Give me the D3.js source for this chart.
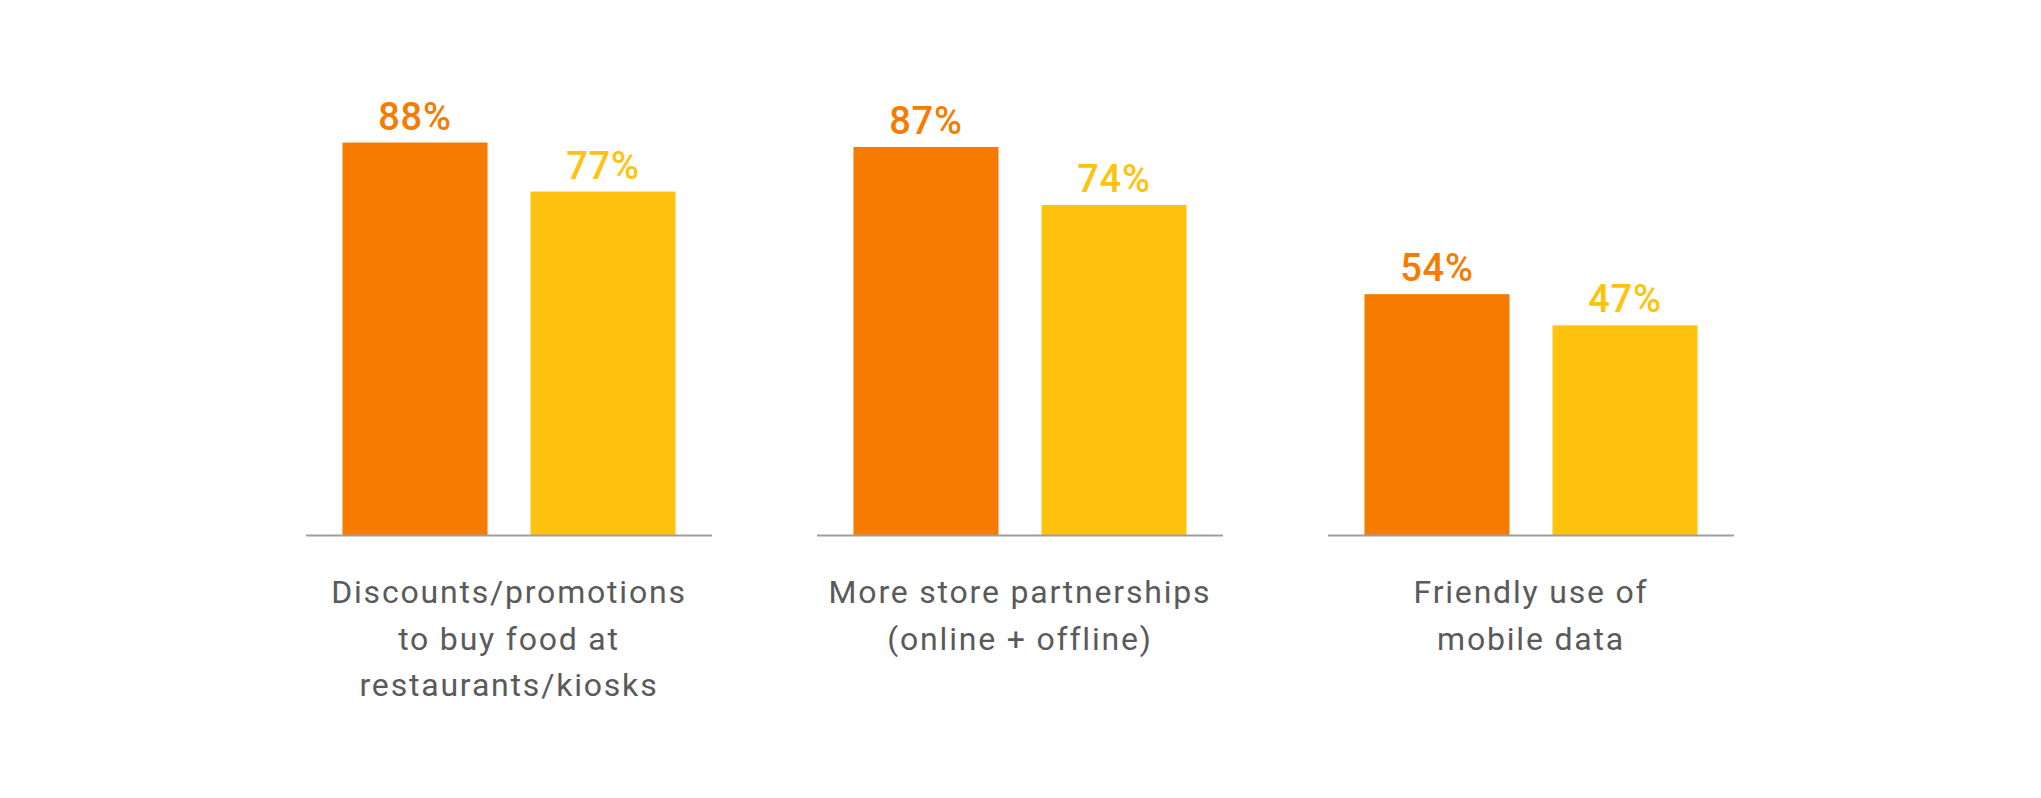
<!DOCTYPE html>
<html>
<head>
<meta charset="utf-8">
<script src="https://cdn.jsdelivr.net/npm/d3@7"></script>
<style>
  body { margin: 0; background: #fff; }
  svg { display: block; }
</style>
</head>
<body>
<script>
// chart values
const categories = ["discounts", "partnerships", "mobileData"];
const categoryLines = [
    ["Discounts/promotions", "to buy food at", "restaurants/kiosks"],
    ["More store partnerships", "(online + offline)"],
    ["Friendly use of", "mobile data"]
];
const seriesKeys = ["first", "second"];
const firstValues = [88, 87, 54];
const secondValues = [77, 74, 47];
const seriesColors = ["#F57C00", "#FFC20E"];

const width = 2041
const height = 798

// build rows for the grouped bars
const rows = categories.map((c, i) => ({
    category: c,
    lines: categoryLines[i],
    values: [
        {key: seriesKeys[0], value: firstValues[i]},
        {key: seriesKeys[1], value: secondValues[i]}
    ]
}));

const svg = d3.select("body")
    .append("svg")
    .attr("width", width)
    .attr("height", height)

svg.append("rect")
    .attr("width", width)
    .attr("height", height)
    .attr("fill", "white");

const x0 = d3.scaleBand()
    .domain(categories)
    .range([306, 1734])
    .paddingInner(0.2055)
    .paddingOuter(0);

const x1 = d3.scaleBand()
    .domain(seriesKeys)
    .range([0, x0.bandwidth()])
    .paddingInner(0.2287)
    .paddingOuter(0.194);

const y = d3.scaleLinear()
    .domain([0, 100])
    .range([535, 89]);

const color = d3.scaleOrdinal()
    .domain(seriesKeys)
    .range(seriesColors);

const group = svg.append("g")
    .selectAll("g")
    .data(rows)
    .join("g")
        .attr("transform", d => "translate(" + x0(d.category) + ",0)");

// bars
group.selectAll("rect")
    .data(d => d.values)
    .join("rect")
        .attr("x", d => x1(d.key))
        .attr("y", d => y(d.value))
        .attr("width", x1.bandwidth())
        .attr("height", d => y(0) - y(d.value))
        .attr("fill", d => color(d.key));

// value labels above bars
group.selectAll("text.value")
    .data(d => d.values)
    .join("text")
        .attr("class", "value")
        .attr("x", d => x1(d.key) + x1.bandwidth() / 2)
        .attr("y", d => y(d.value) - 13)
        .attr("text-anchor", "middle")
        .attr("font-family", "Roboto, sans-serif")
        .attr("font-weight", 500)
        .attr("font-size", 38)
        .attr("letter-spacing", 0.8)
        .attr("fill", d => color(d.key))
        .text(d => d.value + "%");

// baseline under each group
group.append("line")
    .attr("x1", 0)
    .attr("x2", x0.bandwidth())
    .attr("y1", y(0) + 0.5)
    .attr("y2", y(0) + 0.5)
    .attr("stroke", "#9e9e9e")
    .attr("stroke-width", 2);

// category labels
const label = group.append("text")
    .attr("text-anchor", "middle")
    .attr("font-family", "Roboto, sans-serif")
    .attr("font-weight", 400)
    .attr("font-size", 32)
    .attr("letter-spacing", 1.8)
    .attr("fill", "#5a5a5a");

label.selectAll("tspan")
    .data(d => d.lines)
    .join("tspan")
        .attr("x", x0.bandwidth() / 2)
        .attr("y", (d, i) => 603 + i * 46.7)
        .text(d => d);
</script>
</body>
</html>
